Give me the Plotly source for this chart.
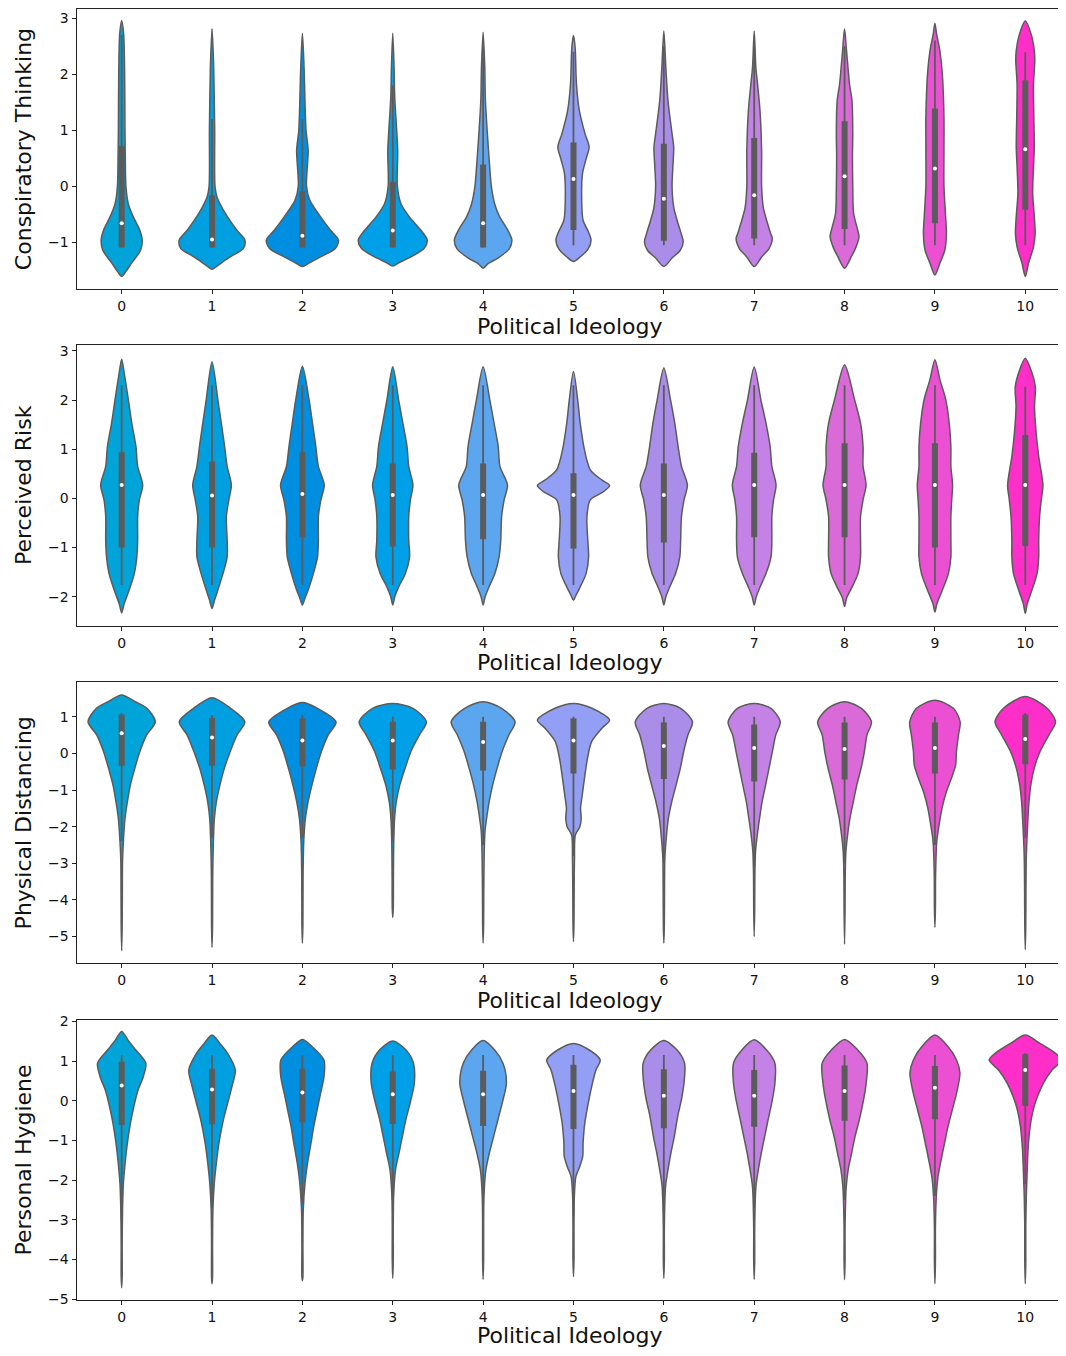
import plotly.graph_objects as go

# ---------------- data ----------------
categories = list(range(11))
tick_labels = [str(c) for c in categories]
x_title = "Political Ideology"
y_titles = ["Conspiratory Thinking", "Perceived Risk", "Physical Distancing", "Personal Hygiene"]
colors = ["#00a4d8", "#00a0e0", "#008fe0", "#00a0e8", "#5ca6f0", "#929ff5",
          "#aa8de8", "#c482e6", "#d96ad8", "#ec50d2", "#fd2fc8"]

# Conspiratory Thinking: density outline (value levels, relative width) per group
ct_y = [
    [-1.61, -1.52, -1.37, -1.14, -0.96, -0.78, -0.54, -0.31, 0.0, 0.53, 1.0, 2.01, 2.72, 2.96],
    [-1.48, -1.40, -1.26, -1.11, -0.96, -0.78, -0.48, -0.19, 0.0, 1.0, 2.13, 2.81],
    [-1.43, -1.37, -1.26, -1.11, -0.96, -0.78, -0.54, -0.25, 0.0, 0.64, 1.0, 2.13, 2.73],
    [-1.42, -1.36, -1.26, -1.11, -0.96, -0.78, -0.54, -0.31, 0.0, 0.64, 1.59, 2.13, 2.73],
    [-1.46, -1.38, -1.28, -1.11, -0.96, -0.78, -0.54, -0.31, 0.0, 0.35, 0.76, 1.53, 2.13, 2.75],
    [-1.34, -1.26, -1.11, -0.96, -0.84, -0.60, -0.25, 0.23, 0.47, 0.70, 0.94, 1.36, 1.83, 2.48, 2.69],
    [-1.43, -1.28, -1.14, -0.99, -0.84, -0.60, -0.37, 0.0, 0.35, 0.70, 0.94, 1.53, 2.13, 2.77],
    [-1.43, -1.26, -1.11, -0.93, -0.84, -0.60, -0.37, 0.0, 0.64, 1.36, 1.83, 2.13, 2.77],
    [-1.46, -1.26, -1.08, -0.90, -0.78, -0.48, 0.0, 0.53, 0.94, 1.53, 1.83, 2.42, 2.81],
    [-1.58, -1.37, -1.14, -0.84, -0.54, 0.0, 0.64, 1.24, 2.01, 2.42, 2.72, 2.91],
    [-1.61, -1.37, -1.08, -0.84, -0.54, -0.13, 0.35, 0.70, 1.24, 1.83, 2.25, 2.42, 2.72, 2.95],
]
ct_d = [
    [0, 25, 60, 115, 125, 110, 70, 40, 26, 22, 20, 18, 12, 0],
    [0, 40, 110, 190, 200, 150, 80, 30, 18, 16, 10, 0],
    [0, 40, 110, 200, 220, 170, 110, 45, 25, 35, 22, 10, 0],
    [0, 40, 110, 190, 210, 170, 100, 50, 28, 30, 12, 8, 0],
    [0, 30, 90, 160, 175, 150, 100, 70, 50, 40, 30, 14, 10, 0],
    [0, 40, 90, 107, 95, 58, 50, 55, 75, 95, 70, 35, 18, 10, 0],
    [0, 50, 100, 118, 105, 80, 60, 50, 55, 60, 50, 25, 12, 0],
    [0, 45, 90, 110, 100, 75, 55, 45, 45, 35, 20, 10, 0],
    [0, 40, 70, 88, 80, 55, 50, 48, 50, 45, 30, 12, 0],
    [0, 30, 60, 70, 65, 55, 55, 55, 45, 30, 10, 0],
    [0, 20, 50, 60, 55, 45, 50, 55, 52, 50, 58, 55, 35, 0],
]
ct_q1 = [-1.09, -1.09, -1.09, -1.09, -1.09, -0.78, -0.97, -0.93, -0.76, -0.66, -0.42]
ct_med = [-0.66, -0.95, -0.88, -0.79, -0.66, 0.13, -0.22, -0.16, 0.18, 0.32, 0.66]
ct_q3 = [0.72, -0.16, -0.09, 0.08, 0.39, 0.78, 0.76, 0.86, 1.16, 1.39, 1.89]
ct_lo = [-1.09, -1.09, -1.09, -1.09, -1.09, -1.05, -1.05, -1.05, -1.05, -1.05, -1.05]
ct_hi = [2.7, 1.2, 1.2, 1.8, 2.5, 2.4, 2.5, 2.5, 2.5, 2.6, 2.39]

# Perceived Risk
pr_y = [
    [-2.33, -2.14, -1.86, -1.53, -1.19, -0.85, -0.37, -0.03, 0.27, 0.65, 1.05, 1.53, 2.0, 2.55, 2.83],
    [-2.24, -2.07, -1.86, -1.53, -1.19, -0.85, -0.37, -0.03, 0.27, 0.65, 1.05, 1.53, 2.0, 2.78],
    [-2.17, -2.03, -1.86, -1.53, -1.19, -0.85, -0.37, -0.03, 0.27, 0.65, 1.05, 1.53, 2.0, 2.69],
    [-2.17, -2.0, -1.80, -1.53, -1.19, -0.85, -0.37, -0.03, 0.27, 0.65, 1.05, 1.53, 2.0, 2.68],
    [-2.17, -2.0, -1.80, -1.53, -1.19, -0.85, -0.37, -0.03, 0.27, 0.65, 1.05, 1.53, 2.0, 2.68],
    [-2.07, -1.97, -1.80, -1.53, -1.19, -0.85, -0.37, -0.03, 0.14, 0.26, 0.37, 0.58, 0.99, 1.53, 2.0, 2.58],
    [-2.17, -2.0, -1.80, -1.53, -1.19, -0.85, -0.37, -0.03, 0.27, 0.65, 1.05, 1.53, 2.0, 2.65],
    [-2.17, -2.0, -1.80, -1.53, -1.19, -0.85, -0.37, -0.03, 0.27, 0.65, 1.05, 1.53, 2.0, 2.67],
    [-2.20, -2.03, -1.80, -1.53, -1.19, -0.85, -0.37, -0.03, 0.27, 0.65, 1.05, 1.53, 2.0, 2.72],
    [-2.31, -2.14, -1.86, -1.53, -1.19, -0.85, -0.37, -0.03, 0.27, 0.65, 1.05, 1.53, 2.0, 2.41, 2.82],
    [-2.34, -2.14, -1.86, -1.53, -1.19, -0.85, -0.37, -0.03, 0.27, 0.85, 1.32, 1.87, 2.27, 2.55, 2.85],
]
pr_d = [
    [0, 15, 45, 75, 90, 95, 95, 105, 125, 95, 85, 60, 40, 15, 0],
    [0, 15, 35, 65, 90, 90, 85, 100, 115, 90, 75, 55, 35, 0],
    [0, 15, 35, 65, 90, 95, 95, 110, 130, 95, 80, 60, 40, 0],
    [0, 12, 35, 75, 100, 95, 95, 105, 120, 95, 85, 60, 35, 0],
    [0, 12, 35, 70, 95, 105, 110, 125, 145, 100, 90, 65, 40, 0],
    [0, 15, 40, 75, 90, 85, 80, 100, 180, 215, 170, 100, 65, 40, 25, 0],
    [0, 12, 35, 70, 95, 100, 105, 120, 140, 105, 85, 65, 40, 0],
    [0, 12, 35, 70, 100, 105, 105, 115, 130, 105, 95, 70, 40, 0],
    [0, 12, 45, 80, 95, 95, 95, 110, 128, 110, 110, 95, 60, 0],
    [0, 12, 45, 80, 95, 95, 95, 100, 105, 95, 95, 85, 65, 30, 0],
    [0, 12, 40, 70, 80, 80, 85, 95, 105, 80, 65, 55, 60, 40, 0],
]
pr_q1 = [-1.0, -1.0, -0.79, -0.98, -0.83, -1.02, -0.90, -0.79, -0.79, -1.0, -0.97]
pr_med = [0.27, 0.06, 0.09, 0.07, 0.07, 0.07, 0.07, 0.27, 0.27, 0.27, 0.27]
pr_q3 = [0.94, 0.75, 0.94, 0.71, 0.71, 0.51, 0.71, 0.93, 1.12, 1.12, 1.29]
pr_lo = [-1.76] * 11
pr_hi = [2.3, 2.3, 2.3, 2.3, 2.3, 2.3, 2.3, 2.3, 2.3, 2.3, 2.27]

# Physical Distancing
pd_y = [
    [-5.39, -4.68, -3.77, -2.95, -2.41, -1.77, -1.32, -0.86, -0.41, 0.05, 0.5, 0.86, 1.23, 1.41, 1.59],
    [-5.3, -4.68, -3.32, -2.41, -1.77, -1.32, -0.86, -0.41, 0.05, 0.5, 0.86, 1.23, 1.52],
    [-5.18, -4.68, -3.32, -2.41, -1.77, -1.32, -0.86, -0.41, 0.05, 0.5, 0.86, 1.23, 1.39],
    [-4.48, -4.23, -3.32, -2.41, -1.77, -1.32, -0.86, -0.41, 0.05, 0.5, 0.86, 1.23, 1.36],
    [-5.18, -4.68, -3.77, -2.86, -2.14, -1.77, -1.32, -0.86, -0.41, 0.05, 0.5, 0.86, 1.23, 1.41],
    [-5.14, -4.68, -3.77, -2.86, -2.23, -2.0, -1.77, -1.5, -1.14, -0.59, -0.14, 0.32, 0.68, 0.91, 1.23, 1.36],
    [-5.18, -4.68, -3.77, -2.86, -2.23, -1.77, -1.32, -0.86, -0.41, 0.05, 0.5, 0.86, 1.23, 1.36],
    [-5.0, -4.23, -3.32, -2.68, -2.23, -1.77, -1.32, -0.86, -0.41, 0.05, 0.5, 0.86, 1.23, 1.36],
    [-5.21, -4.23, -3.32, -2.68, -2.23, -1.77, -1.32, -0.86, -0.41, 0.05, 0.5, 0.86, 1.23, 1.41],
    [-4.75, -4.23, -3.32, -2.41, -1.95, -1.5, -1.05, -0.68, -0.32, 0.05, 0.5, 0.86, 1.23, 1.45],
    [-5.36, -4.68, -3.77, -2.86, -2.14, -1.32, -0.86, -0.41, 0.05, 0.5, 0.86, 1.23, 1.55],
]
pd_d = [
    [0, 3, 4, 5, 10, 20, 34, 52, 78, 108, 148, 200, 150, 80, 0],
    [0, 3, 4, 8, 14, 26, 47, 73, 108, 148, 195, 110, 0],
    [0, 3, 4, 8, 18, 34, 57, 83, 113, 153, 200, 90, 0],
    [0, 3, 4, 6, 11, 21, 42, 73, 108, 158, 200, 120, 0],
    [0, 3, 4, 6, 11, 21, 36, 57, 83, 113, 153, 190, 110, 0],
    [0, 3, 4, 6, 11, 38, 46, 42, 52, 68, 83, 108, 168, 215, 110, 0],
    [0, 3, 4, 6, 16, 27, 47, 73, 98, 118, 143, 170, 100, 0],
    [0, 3, 4, 8, 18, 32, 47, 68, 88, 108, 128, 155, 100, 0],
    [0, 3, 4, 8, 18, 32, 52, 73, 98, 118, 133, 160, 100, 0],
    [0, 3, 4, 11, 25, 42, 68, 98, 123, 128, 140, 150, 110, 0],
    [0, 3, 4, 6, 12, 22, 33, 53, 88, 140, 180, 130, 0],
]
pd_q1 = [-0.34, -0.34, -0.36, -0.44, -0.47, -0.55, -0.70, -0.77, -0.71, -0.55, -0.30]
pd_med = [0.55, 0.43, 0.35, 0.35, 0.31, 0.35, 0.20, 0.15, 0.12, 0.15, 0.39]
pd_q3 = [1.06, 0.97, 0.95, 0.86, 0.86, 0.95, 0.84, 0.79, 0.84, 0.84, 1.06]
pd_lo = [-2.4, -2.3, -2.3, -2.4, -2.5, -2.8, -3.0, -3.1, -3.0, -2.5, -2.3]
pd_hi = [1.1, 1.05, 1.05, 1.0, 1.0, 1.0, 1.0, 1.0, 1.0, 1.0, 1.1]

# Personal Hygiene
ph_y = [
    [-4.71, -4.43, -3.59, -2.75, -2.08, -1.57, -1.07, -0.56, -0.14, 0.28, 0.61, 0.95, 1.29, 1.54, 1.75],
    [-4.61, -4.43, -3.59, -2.75, -2.08, -1.57, -1.07, -0.48, -0.06, 0.36, 0.78, 1.2, 1.45, 1.66],
    [-4.53, -4.43, -3.59, -2.75, -2.08, -1.57, -1.07, -0.65, -0.23, 0.19, 0.61, 1.03, 1.37, 1.55],
    [-4.47, -4.01, -3.17, -2.41, -1.74, -1.32, -0.9, -0.48, -0.06, 0.45, 0.95, 1.29, 1.51],
    [-4.5, -4.01, -3.17, -2.41, -1.74, -1.32, -0.9, -0.48, -0.06, 0.45, 0.95, 1.29, 1.52],
    [-4.43, -4.01, -3.17, -2.41, -1.91, -1.66, -1.4, -1.07, -0.56, -0.06, 0.36, 0.78, 1.03, 1.29, 1.45],
    [-4.47, -4.01, -3.17, -2.16, -1.74, -1.32, -0.9, -0.39, 0.11, 0.61, 0.95, 1.29, 1.52],
    [-4.5, -4.01, -3.17, -2.16, -1.74, -1.32, -0.9, -0.48, 0.03, 0.45, 0.95, 1.29, 1.54],
    [-4.51, -4.01, -3.17, -2.16, -1.74, -1.32, -0.9, -0.48, 0.03, 0.45, 0.95, 1.29, 1.55],
    [-4.61, -4.01, -3.17, -2.41, -1.91, -1.49, -1.07, -0.65, -0.23, 0.19, 0.7, 1.03, 1.37, 1.66],
    [-4.61, -4.01, -3.17, -2.41, -1.91, -1.24, -0.65, -0.23, 0.11, 0.45, 0.78, 1.03, 1.2, 1.45, 1.66],
]
ph_d = [
    [0, 3, 3, 5, 10, 20, 33, 51, 71, 96, 126, 141, 81, 36, 0],
    [0, 3, 3, 5, 13, 25, 40, 66, 91, 116, 136, 91, 46, 0],
    [0, 3, 3, 5, 15, 30, 50, 66, 86, 106, 126, 126, 56, 0],
    [0, 3, 3, 5, 16, 36, 56, 76, 101, 126, 121, 76, 0],
    [0, 3, 3, 5, 16, 36, 61, 86, 111, 136, 116, 66, 0],
    [0, 3, 3, 5, 14, 36, 54, 56, 66, 86, 106, 131, 156, 90, 0],
    [0, 3, 3, 10, 24, 41, 61, 81, 106, 121, 121, 76, 0],
    [0, 3, 3, 10, 24, 41, 61, 81, 106, 121, 121, 71, 0],
    [0, 3, 3, 10, 21, 41, 61, 86, 111, 126, 131, 76, 0],
    [0, 3, 3, 8, 18, 36, 56, 76, 101, 126, 146, 126, 76, 0],
    [0, 3, 3, 6, 10, 16, 28, 46, 71, 106, 156, 211, 176, 86, 0],
]
ph_q1 = [-0.61, -0.59, -0.54, -0.58, -0.63, -0.71, -0.69, -0.65, -0.50, -0.46, -0.13]
ph_med = [0.39, 0.29, 0.21, 0.17, 0.17, 0.25, 0.13, 0.13, 0.25, 0.33, 0.78]
ph_q3 = [0.99, 0.81, 0.81, 0.74, 0.76, 0.91, 0.80, 0.78, 0.89, 0.88, 1.18]
ph_lo = [-3.0, -2.7, -2.6, -2.5, -2.6, -2.9, -2.8, -2.7, -2.5, -2.4, -2.1]
ph_hi = [1.16, 1.16, 1.16, 1.16, 1.16, 1.16, 1.16, 1.16, 1.16, 1.16, 1.2]

y_ranges = [[-1.837, 3.167], [-2.59, 3.12], [-5.73, 1.94], [-5.02, 2.04]]
y_ticks = [[-1, 0, 1, 2, 3], [-2, -1, 0, 1, 2, 3], [-5, -4, -3, -2, -1, 0, 1],
           [-5, -4, -3, -2, -1, 0, 1, 2]]

# ---------------- figure ----------------
# the page body has an 8px margin, so the figure is placed at (8, 8);
# keep the page smaller than the window so no scrollbar appears
OFF = 8
W, H = 1066 - OFF, 1356 - 2 * OFF
panels_px = [(8.8, 289.3), (345, 625.7), (682.3, 963.3), (1020, 1300)]
x_left, x_right = 76.5, 1063
unit = 90.36

panels = [
    (ct_y, ct_d, ct_q1, ct_med, ct_q3, ct_lo, ct_hi),
    (pr_y, pr_d, pr_q1, pr_med, pr_q3, pr_lo, pr_hi),
    (pd_y, pd_d, pd_q1, pd_med, pd_q3, pd_lo, pd_hi),
    (ph_y, ph_d, ph_q1, ph_med, ph_q3, ph_lo, ph_hi),
]

edge = "#5b5b5b"
fig = go.Figure()
layout = dict(
    width=W, height=H, margin=dict(l=0, r=0, t=0, b=0),
    paper_bgcolor="white", plot_bgcolor="white", showlegend=False,
    font=dict(family="DejaVu Sans", color="#111"),
)

for p, (ys, ds, q1, med, q3, lo, hi) in enumerate(panels):
    xa = "x" if p == 0 else f"x{p+1}"
    ya = "y" if p == 0 else f"y{p+1}"
    dmax = max(max(d) for d in ds)
    for c in categories:
        yy, dd = ys[c], ds[c]
        hw = [0.4 * v / dmax for v in dd]
        xs = [c + h for h in hw] + [c - h for h in hw[::-1][1:]]
        yv = list(yy) + list(yy[::-1][1:])
        fig.add_trace(go.Scatter(
            x=xs, y=yv, mode="lines", fill="toself", fillcolor=colors[c],
            line=dict(color=edge, width=1.5, shape="spline", smoothing=0.8),
            xaxis=xa, yaxis=ya, hoverinfo="skip"))
    wx, wy, bx, by = [], [], [], []
    for c in categories:
        wx += [c, c, None]; wy += [lo[c], hi[c], None]
        bx += [c, c, None]; by += [q1[c], q3[c], None]
    fig.add_trace(go.Scatter(x=wx, y=wy, mode="lines", line=dict(color=edge, width=1.8),
                             xaxis=xa, yaxis=ya, hoverinfo="skip"))
    fig.add_trace(go.Scatter(x=bx, y=by, mode="lines", line=dict(color=edge, width=6),
                             xaxis=xa, yaxis=ya, hoverinfo="skip"))
    fig.add_trace(go.Scatter(x=categories, y=med, mode="markers",
                             marker=dict(color="white", size=4, line=dict(width=0)),
                             xaxis=xa, yaxis=ya, hoverinfo="skip"))

    top, bot = panels_px[p]
    xkey = "xaxis" if p == 0 else f"xaxis{p+1}"
    ykey = "yaxis" if p == 0 else f"yaxis{p+1}"
    axis_line = dict(showline=True, linecolor="#222", linewidth=1, mirror=True,
                     ticks="outside", ticklen=4, tickcolor="#222", showgrid=False,
                     zeroline=False, automargin=False)
    layout[xkey] = dict(
        domain=[(x_left - OFF) / W, (x_right - OFF) / W], anchor=ya,
        range=[-0.5, -0.5 + (x_right - x_left) / unit],
        tickmode="array", tickvals=categories, ticktext=tick_labels,
        tickfont=dict(size=14, family="DejaVu Sans", color="#111"),
        title=dict(text=x_title, font=dict(size=22, family="DejaVu Sans", color="#111"), standoff=4),
        **axis_line)
    layout[ykey] = dict(
        domain=[1 - (bot - OFF) / H, 1 - (top - OFF) / H], anchor=xa,
        range=y_ranges[p], tickmode="array", tickvals=y_ticks[p],
        tickfont=dict(size=14, family="DejaVu Sans", color="#111"),
        title=dict(text=y_titles[p], font=dict(size=22, family="DejaVu Sans", color="#111"), standoff=10),
        **axis_line)

fig.update_layout(**layout)
fig.write_html("out.html")
